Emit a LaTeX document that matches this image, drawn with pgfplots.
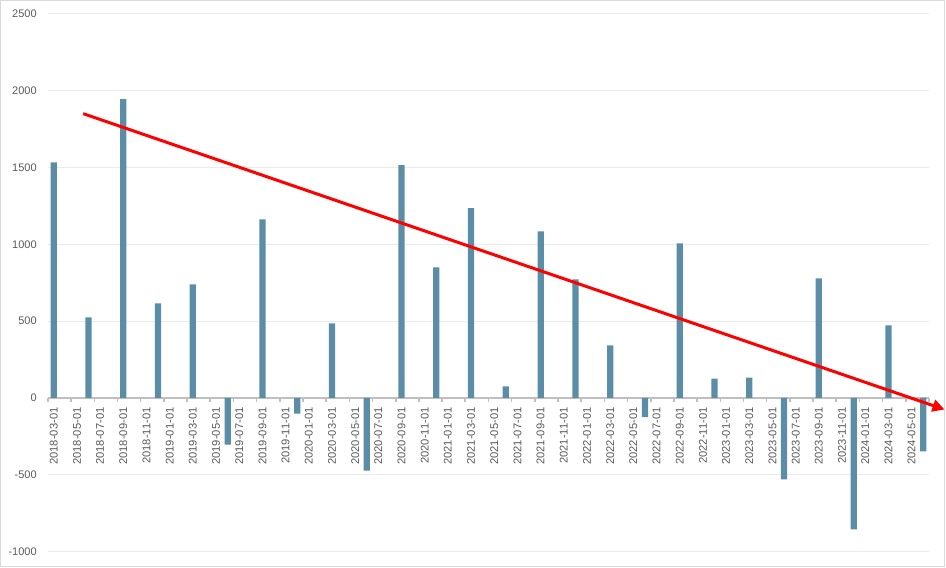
\documentclass[border=0pt]{standalone}
\usepackage{fontspec}
\setmainfont{Liberation Sans}
\usepackage{pgfplots}
\pgfplotsset{compat=1.18}
\usetikzlibrary{arrows.meta}
\definecolor{barcol}{RGB}{91,142,166}
\definecolor{labcol}{RGB}{89,89,89}
\definecolor{gridcol}{RGB}{235,235,235}
\definecolor{axcol}{RGB}{191,191,191}
\definecolor{framecol}{RGB}{217,217,217}
\begin{document}
\begin{tikzpicture}
\draw[framecol, line width=0.75pt] (0.375pt,0.375pt) rectangle (709.125pt,425.625pt);
\begin{axis}[
  at={(36pt,12pt)}, anchor=south west,
  scale only axis, width=661.5pt, height=403.5pt,
  xmin=-0.5, xmax=75.5, ymin=-1000, ymax=2500,
  clip=false,
  axis x line=middle, axis y line=left,
  x axis line style={draw=axcol, line width=1.5pt, -},
  y axis line style={draw=none},
  xtick={0,2,...,74},
  xticklabels={2018-03-01,2018-05-01,2018-07-01,2018-09-01,2018-11-01,2019-01-01,2019-03-01,2019-05-01,2019-07-01,2019-09-01,2019-11-01,2020-01-01,2020-03-01,2020-05-01,2020-07-01,2020-09-01,2020-11-01,2021-01-01,2021-03-01,2021-05-01,2021-07-01,2021-09-01,2021-11-01,2022-01-01,2022-03-01,2022-05-01,2022-07-01,2022-09-01,2022-11-01,2023-01-01,2023-03-01,2023-05-01,2023-07-01,2023-09-01,2023-11-01,2024-01-01,2024-03-01,2024-05-01},
  minor xtick={-0.5,1.5,...,75.5},
  ytick={-1000,-500,0,500,1000,1500,2000,2500},
  yticklabels={-1000,-500,0,500,1000,1500,2000,2500},
  major tick length=0pt,
  minor tick length=3pt,
  tick align=outside,
  minor tick style={draw=axcol, line width=1.2pt},
  ymajorgrids,
  grid style={draw=gridcol, line width=0.75pt},
  xticklabel style={rotate=90, anchor=east, inner sep=0pt, font=\fontsize{8.4}{9}\selectfont, text=labcol, xshift=-7pt},
  yticklabel style={anchor=east, inner sep=0pt, font=\fontsize{8.25}{9}\selectfont, text=labcol, xshift=-8.25pt},
]
\addplot[ybar, bar width=4.7pt, bar shift=0pt, fill=barcol, draw=none] coordinates {
(0,1533) (3,524) (6,1946) (9,615) (12,739) (15,-305) (18,1163) (21,-102)
(24,485) (27,-474) (30,1515) (33,850) (36,1235) (39,74) (42,1085) (45,772)
(48,341) (51,-126) (54,1006) (57,126) (60,132) (63,-531) (66,778) (69,-857)
(72,472) (75,-348)};
\addplot[red, line width=2.25pt, -{Triangle[length=9pt,width=9pt]}] coordinates {(2.54,1851) (76.84,-76)};
\end{axis}
\end{tikzpicture}
\end{document}
